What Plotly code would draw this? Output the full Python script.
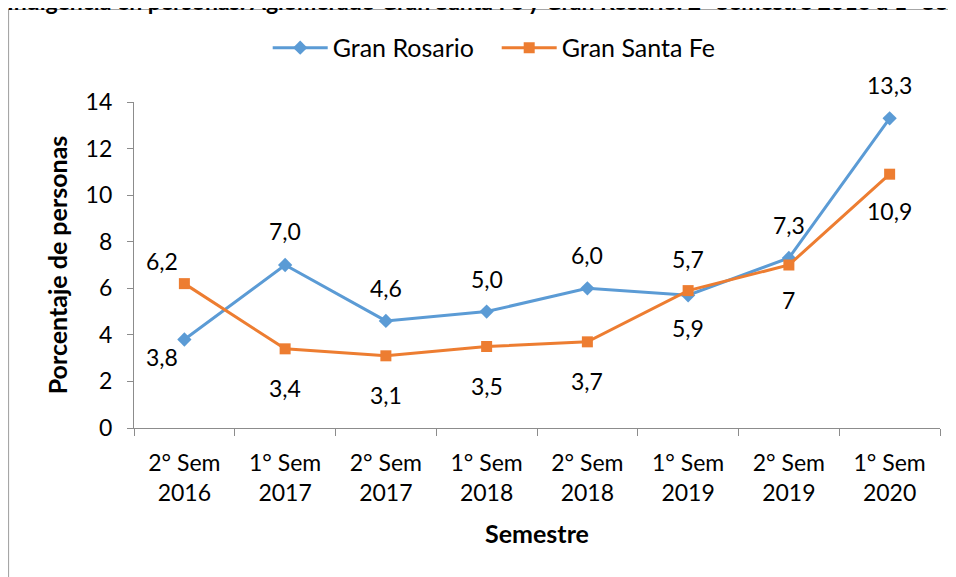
import plotly.graph_objects as go

categories = ["2° Sem<br>2016", "1° Sem<br>2017", "2° Sem<br>2017", "1° Sem<br>2018",
              "2° Sem<br>2018", "1° Sem<br>2019", "2° Sem<br>2019", "1° Sem<br>2020"]
rosario = [3.8, 7.0, 4.6, 5.0, 6.0, 5.7, 7.3, 13.3]
santafe = [6.2, 3.4, 3.1, 3.5, 3.7, 5.9, 7.0, 10.9]
rosario_labels = ["3,8", "7,0", "4,6", "5,0", "6,0", "5,7", "7,3", "13,3"]
santafe_labels = ["6,2", "3,4", "3,1", "3,5", "3,7", "5,9", "7", "10,9"]
# label offsets (pixels) relative to point: (xshift, yshift)
rosario_off = [(-22, -17), (0, 34), (0, 33), (0, 33), (0, 33), (0, 36), (0, 33), (0, 33)]
santafe_off = [(-22, 23), (0, -39), (0, -39), (0, -39), (0, -39), (0, -37), (0, -35), (0, -37)]

FONT = "Lato"
FS = 23
BLUE = "#5B9BD5"
ORANGE = "#ED7D31"

fig = go.Figure()
fig.add_trace(go.Scatter(x=categories, y=rosario, name="Gran Rosario", mode="lines+markers",
                         line=dict(color=BLUE, width=3),
                         marker=dict(symbol="diamond", size=11, color=BLUE)))
fig.add_trace(go.Scatter(x=categories, y=santafe, name="Gran Santa Fe", mode="lines+markers",
                         line=dict(color=ORANGE, width=3),
                         marker=dict(symbol="square", size=11, color=ORANGE)))

annotations = []
for cat, v, t, (dx, dy) in zip(categories, rosario, rosario_labels, rosario_off):
    annotations.append(dict(x=cat, y=v, text=t, showarrow=False, xshift=dx, yshift=dy,
                            font=dict(family=FONT, size=FS, color="black")))
for cat, v, t, (dx, dy) in zip(categories, santafe, santafe_labels, santafe_off):
    annotations.append(dict(x=cat, y=v, text=t, showarrow=False, xshift=dx, yshift=dy,
                            font=dict(family=FONT, size=FS, color="black")))

# cut-off title at the top
annotations.append(dict(xref="paper", yref="paper", x=-0.16, y=1.31, xanchor="left", yanchor="middle",
                        showarrow=False,
                        text="<b>Indigencia en personas. Aglomerado Gran Santa Fe y Gran Rosario. 2° Semestre 2016 a 1° Semestre 2020</b>",
                        font=dict(family=FONT, size=23, color="black")))

fig.update_layout(
    width=956, height=577,
    margin=dict(l=126, r=24, t=94, b=157, autoexpand=False),
    paper_bgcolor="white", plot_bgcolor="white",
    font=dict(family=FONT, size=FS, color="black"),
    showlegend=True,
    legend=dict(orientation="h", x=0.45, xanchor="center", y=1.166, yanchor="middle",
                font=dict(family=FONT, size=25), tracegroupgap=0, itemwidth=55,
                entrywidth=159, entrywidthmode="pixels"),
    annotations=annotations,
    shapes=[dict(type="rect", xref="paper", yref="paper", x0=-0.1557, x1=1.1, y0=-0.6, y1=1.2837,
                 line=dict(color="#A6A6A6", width=1.2), fillcolor="rgba(0,0,0,0)")],
    xaxis=dict(type="category", tickson="boundaries", ticks="outside", ticklen=7,
               tickcolor="#8C8C8C", showline=True, linecolor="#8C8C8C", linewidth=1.2,
               showgrid=False, tickfont=dict(family=FONT, size=FS), automargin=False,
               ticklabelstandoff=14,
               title=dict(text="<b>Semestre</b>", font=dict(family=FONT, size=25), standoff=20),
               range=[-0.5, 7.5]),
    yaxis=dict(range=[0, 14], dtick=2, ticks="outside", ticklen=6, tickcolor="#8C8C8C",
               showline=True, linecolor="#8C8C8C", linewidth=1.2, showgrid=False, zeroline=False,
               tickfont=dict(family=FONT, size=FS), automargin=False, ticklabelstandoff=10,
               title=dict(text="<b>Porcentaje de personas</b>", font=dict(family=FONT, size=25), standoff=10)),
)

fig.write_html("out.html")
